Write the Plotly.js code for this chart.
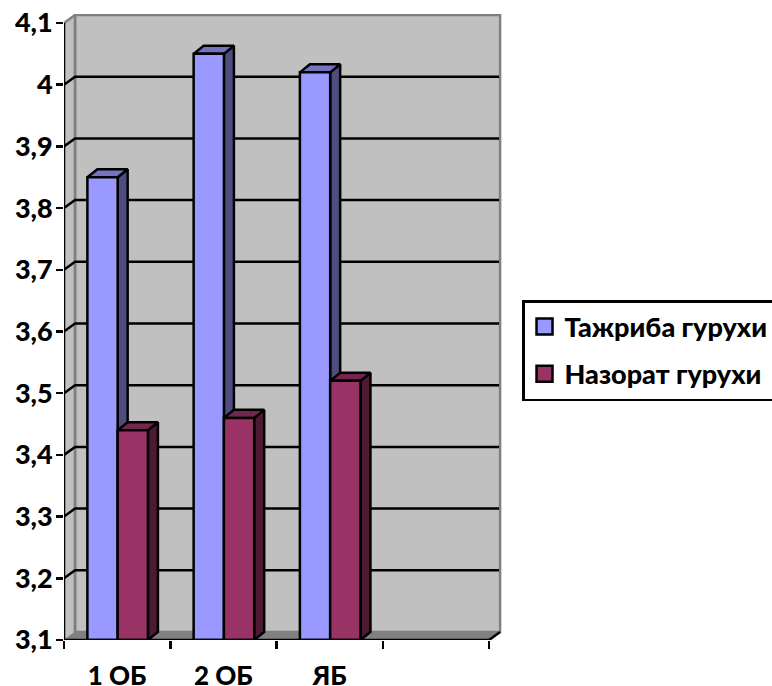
<!DOCTYPE html>
<html><head><meta charset="utf-8">
<script src="https://cdn.plot.ly/plotly-3.0.1.min.js"></script>
<style>html,body{margin:0;padding:0;background:#fff;overflow:hidden}</style>
</head><body><div id="chart" style="width:772px;height:686px"></div>
<script>
const categories = ['1 ОБ', '2 ОБ', 'ЯБ', ''];
const seriesNames = ['Тажриба гурухи', 'Назорат гурухи'];
const experimentValues = [3.85, 4.05, 4.02];
const controlValues = [3.44, 3.46, 3.52];
const yTicks = [3.1, 3.2, 3.3, 3.4, 3.5, 3.6, 3.7, 3.8, 3.9, 4, 4.1];
const yTickText = ['3,1', '3,2', '3,3', '3,4', '3,5', '3,6', '3,7', '3,8', '3,9', '4', '4,1'];
const gridValues = [3.2, 3.3, 3.4, 3.5, 3.6, 3.7, 3.8, 3.9, 4];
const frontColors = ['#9999FF', '#993366'];
const sideColors = ['#4D4D80', '#4D1A33'];
const topColors = ['#7373BF', '#73264D'];

const Y0 = 3.1, Y1 = 4.1, N = 4;
const wallDx = 0.104, wallDy = 0.013;
const barDx = 0.094, barDy = 0.013;
const barStart = 0.22, barW = 0.285;
const font = 'Lato, Carlito, "Open Sans", sans-serif';
const traces = [];
function poly(xs, ys, fill, line, w) {
  traces.push({type:'scatter', mode:'lines', x:[...xs, xs[0]], y:[...ys, ys[0]], fill:'toself',
    fillcolor:fill, line:{color:line, width:w}, showlegend:false, hoverinfo:'skip', cliponaxis:false});
}
function seg(xs, ys, color, w) {
  traces.push({type:'scatter', mode:'lines', x:xs, y:ys, line:{color:color, width:w},
    showlegend:false, hoverinfo:'skip', cliponaxis:false});
}
// walls and floor
poly([0, wallDx, wallDx, 0], [Y0, Y0+wallDy, Y1+wallDy, Y1], '#C0C0C0', '#C0C0C0', 0);
poly([wallDx, N+wallDx, N+wallDx, wallDx], [Y0+wallDy, Y0+wallDy, Y1+wallDy, Y1+wallDy], '#C0C0C0', '#808080', 2.5);
poly([0, N, N+wallDx, wallDx], [Y0, Y0, Y0+wallDy, Y0+wallDy], '#808080', '#808080', 1);
seg([0, wallDx], [Y1, Y1+wallDy], '#808080', 2.5);
seg([wallDx, wallDx], [Y0+wallDy, Y1+wallDy], '#808080', 2.5);
gridValues.forEach(v => {
  seg([0, wallDx, N+wallDx-0.01], [v, v+wallDy, v+wallDy], '#000', 2.5);
});
// bars
function bar(cat, s, v) {
  const l = cat + barStart + s*barW, r = l + barW;
  poly([r, r+barDx, r+barDx, r], [Y0, Y0+barDy, v+barDy, v], sideColors[s], '#000', 2.5);
  poly([l, r, r+barDx, l+barDx], [v, v, v+barDy, v+barDy], topColors[s], '#000', 2.5);
  poly([l, r, r, l], [Y0, Y0, v, v], frontColors[s], '#000', 2.5);
}
experimentValues.forEach((v, i) => { bar(i, 0, v); bar(i, 1, controlValues[i]); });
// axis lines
seg([0, 0], [Y0, Y1], '#000', 2.5);
seg([0, N], [Y0, Y0], '#000', 2.5);
seg([N, N+wallDx], [Y0, Y0+wallDy], '#000', 2.5);
// legend entries
seriesNames.forEach((n, s) => {
  traces.push({type:'scatter', mode:'markers', x:[null], y:[null], name:n, legendgroup:n,
    marker:{symbol:'square', size:16, color:frontColors[s], line:{color:'#000', width:2.5}}, hoverinfo:'skip'});
});
const layout = {
  width:772, height:686,
  margin:{l:64, r:270, t:14, b:46, pad:0, autoexpand:false},
  paper_bgcolor:'#fff', plot_bgcolor:'#fff',
  font:{family:font, size:27, color:'#000'},
  xaxis:{type:'linear', range:[0, 4.122], showgrid:false, zeroline:false, showline:false,
    tickmode:'array', tickvals:categories.map((c, i) => i + 0.5), ticktext:categories,
    ticks:'', ticklabelstandoff:18,
    tickfont:{family:font, size:26, weight:900},
    minor:{tickmode:'array', tickvals:[0, 1, 2, 3, 4], ticks:'outside', ticklen:8, tickwidth:2.5, tickcolor:'#000', showgrid:false}},
  yaxis:{range:[Y0, Y0 + 626/617], showgrid:false, zeroline:false, showline:false,
    tickmode:'array', tickvals:yTicks, ticktext:yTickText, ticks:'outside', ticklen:7, tickwidth:2.5, tickcolor:'#000',
    ticklabelstandoff:-2,
    tickfont:{family:font, size:27, weight:900}},
  showlegend:true,
  legend:{x:1.0457, xanchor:'left', y:(640 - 300) / 626, yanchor:'top', traceorder:'grouped', tracegroupgap:9,
    bordercolor:'#000', borderwidth:2.5, bgcolor:'#fff',
    font:{family:font, size:27, weight:900, color:'#000'}}
};
Plotly.newPlot('chart', traces, layout, {displayModeBar:false, staticPlot:true});
</script></body></html>
